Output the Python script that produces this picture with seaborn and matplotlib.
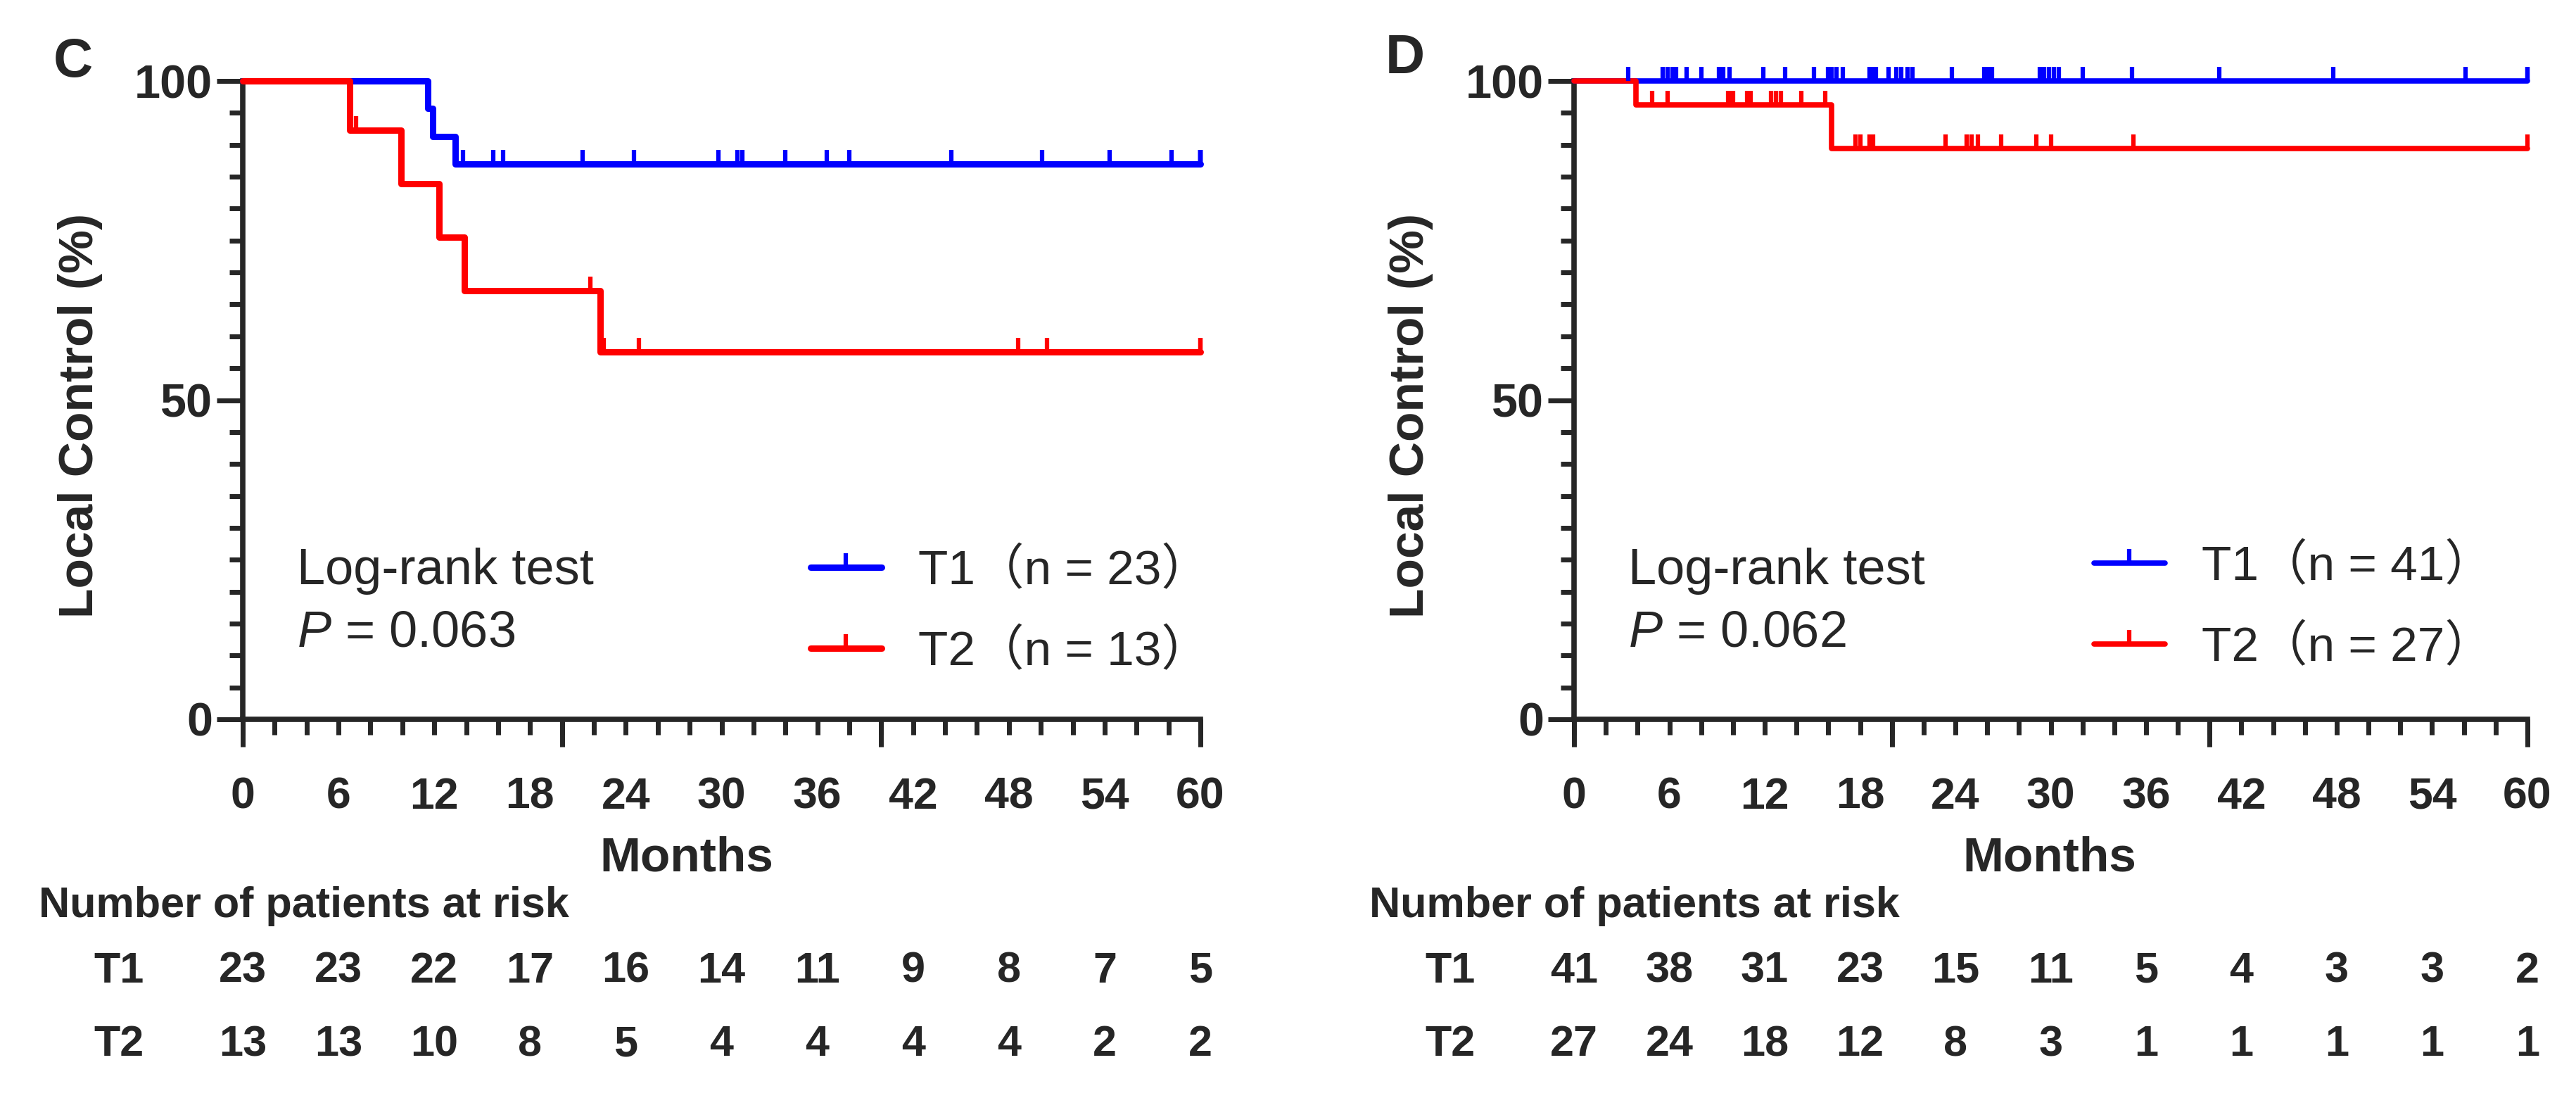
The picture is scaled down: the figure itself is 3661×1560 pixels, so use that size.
import matplotlib
matplotlib.use("Agg")
import matplotlib.pyplot as plt
import matplotlib.transforms as mtransforms
import seaborn as sns
from matplotlib.path import Path
from matplotlib.lines import Line2D
from matplotlib.ticker import MultipleLocator, FixedLocator
from matplotlib.font_manager import FontProperties

# --- Data (months) ---

# Panel C
c_t1_events = [11.6, 11.9, 13.3]
c_t1_censored = [13.8, 15.7, 16.3, 21.3, 24.5, 29.8, 31.0, 31.3, 34.0, 36.6,
                 38.0, 44.4, 50.1, 54.3, 58.2, 60, 60, 60, 60, 60]
c_t2_events = [6.7, 9.9, 12.3, 13.9, 22.4]
c_t2_censored = [7.1, 21.8, 22.6, 24.8, 48.6, 50.4, 60, 60]

# Panel D
d_t1_events = []
d_t1_censored = [3.4, 5.6, 5.9, 6.2, 6.4, 7.1, 8.0, 9.1, 9.4, 9.8, 11.9, 13.3,
                 15.1, 16.0, 16.2, 16.5, 16.9, 18.6, 18.8, 19.0, 19.8, 20.3,
                 20.6, 21.0, 21.3, 23.8, 25.8, 26.1, 26.3, 29.3, 29.6, 29.9,
                 30.2, 30.5, 32.0, 35.1, 40.6, 47.8, 56.1, 60, 60]
d_t2_events = [3.9, 16.2]
d_t2_censored = [4.9, 5.9, 9.7, 9.9, 10.0, 10.9, 11.1, 12.4, 12.7, 13.0, 14.3,
                 15.8, 17.7, 18.0, 18.6, 18.8, 23.4, 24.7, 25.0, 25.4, 26.9,
                 29.1, 30.0, 35.2, 60]

risk_months = [0, 6, 12, 18, 24, 30, 36, 42, 48, 54, 60]
c_risk_t1 = [23, 23, 22, 17, 16, 14, 11, 9, 8, 7, 5]
c_risk_t2 = [13, 13, 10, 8, 5, 4, 4, 4, 4, 2, 2]
d_risk_t1 = [41, 38, 31, 23, 15, 11, 5, 4, 3, 3, 2]
d_risk_t2 = [27, 24, 18, 12, 8, 3, 1, 1, 1, 1, 1]

c_labels = ["T1（n = 23）", "T2（n = 13）"]
d_labels = ["T1（n = 41）", "T2（n = 27）"]
c_pvalue = "0.063"
d_pvalue = "0.062"

BLUE = "#0000ff"
RED = "#ff0000"

W, H = 3662, 1560

sns.set_style("ticks")
plt.rcParams["font.family"] = ["Liberation Sans", "DejaVu Sans"]
plt.rcParams["mathtext.fontset"] = "custom"
plt.rcParams["mathtext.it"] = "Liberation Sans:italic"
plt.rcParams["mathtext.rm"] = "Liberation Sans"

TICK = Path([(0, 0), (0, 1)])
LEG_FONT = FontProperties(family=["Liberation Sans", "Noto Sans CJK JP"], size=50)


def km(events, censored):
    """Kaplan-Meier step coordinates plus censor mark positions (percent)."""
    n = len(events) + len(censored)
    times = sorted(set(events) | set(censored))
    t, s = [0.0], [100.0]
    cur = 100.0
    at_risk = n
    ct, cs = [], []
    for tm in times:
        d = events.count(tm)
        c = censored.count(tm)
        if d:
            cur = cur * (1 - d / at_risk)
            t.append(tm)
            s.append(cur)
        if c:
            ct += [tm] * c
            cs += [cur] * c
        at_risk -= d + c
    t.append(60.0)
    s.append(cur)
    return t, s, ct, cs


def fx(px):
    return px / W


def fy(py):
    return 1 - py / H


fig = plt.figure(figsize=(W / 100, H / 100), dpi=100)

panels = [
    dict(ax_px=(345, 115, 1706, 1022), letter="C", letter_xy=(104, 88),
         curves=[(c_t1_events, c_t1_censored, BLUE), (c_t2_events, c_t2_censored, RED)],
         lw=6.5, labels=c_labels, pval=c_pvalue, text_x=422,
         leg_xy=(1152, 778), months_x=976, ylab_x=114,
         risk=(c_risk_t1, c_risk_t2), risk_title_x=55, row_x=169),
    dict(ax_px=(2237, 115, 3592, 1022), letter="D", letter_xy=(1997, 84),
         curves=[(d_t1_events, d_t1_censored, BLUE), (d_t2_events, d_t2_censored, RED)],
         lw=5.5, labels=d_labels, pval=d_pvalue, text_x=2314,
         leg_xy=(2976, 772), months_x=2913, ylab_x=2005,
         risk=(d_risk_t1, d_risk_t2), risk_title_x=1946, row_x=2061),
]

for p in panels:
    x0, y0, x1, y1 = p["ax_px"]
    ax = fig.add_axes([fx(x0), fy(y1), (x1 - x0) / W, (y1 - y0) / H])
    ax.set_xlim(0, 60)
    ax.set_ylim(0, 100)
    sns.despine(ax=ax)
    for sp in ("left", "bottom"):
        ax.spines[sp].set_linewidth(5.5)

    for ev, ce, col in p["curves"]:
        t, s, ct, cs = km(ev, ce)
        sns.lineplot(x=t, y=s, drawstyle="steps-post", color=col, lw=p["lw"],
                     estimator=None, sort=False, ax=ax, clip_on=False, zorder=3)
        sns.scatterplot(x=ct, y=cs, marker=TICK, s=830, color=col, edgecolor=col,
                        linewidth=4.5, ax=ax, clip_on=False, zorder=4, legend=False)

    # x axis: labels every 6, small ticks every 2, long ticks at 0/20/40/60
    ax.xaxis.set_major_locator(FixedLocator(risk_months))
    ax.xaxis.set_minor_locator(MultipleLocator(2))
    ax.tick_params(axis="x", which="both", length=16, width=5, direction="out")
    ax.tick_params(axis="x", which="major", labelsize=45, pad=42)
    sec = ax.secondary_xaxis("bottom")
    sec.spines["bottom"].set_visible(False)
    sec.set_xticks([0, 20, 40, 60])
    sec.tick_params(length=28, width=5, labelbottom=False)

    ax.yaxis.set_major_locator(FixedLocator([0, 50, 100]))
    ax.yaxis.set_minor_locator(MultipleLocator(5))
    ax.tick_params(axis="y", which="major", length=27, width=5, labelsize=48, pad=4)
    ax.tick_params(axis="y", which="minor", length=14, width=5)
    for lab in ax.get_xticklabels() + ax.get_yticklabels():
        lab.set_fontweight("bold")

    ax.set_xlabel("Months", fontsize=50, fontweight="bold")
    ax.xaxis.label.set_va("center")
    ax.xaxis.set_label_coords((p["months_x"] - x0) / (x1 - x0), (y1 - 1220) / (y1 - y0))
    ax.set_ylabel("Local Control (%)", fontsize=50, fontweight="bold")
    ax.yaxis.label.set_va("center")
    ax.yaxis.set_label_coords((p["ylab_x"] - x0) / (x1 - x0), (y1 - 590) / (y1 - y0))

    fig.text(fx(p["letter_xy"][0]), fy(p["letter_xy"][1]), p["letter"], fontsize=56,
             fontweight="bold", ha="center", va="center")

    fig.text(fx(p["text_x"]), fy(811), "Log-rank test", fontsize=52, va="center")
    fig.text(fx(p["text_x"]), fy(900), "$P$ = " + p["pval"], fontsize=52, va="center")

    handles = [Line2D([], [], color=col, lw=p["lw"], marker=TICK, markersize=29,
                      markeredgewidth=4.5, markeredgecolor=col)
               for col in (BLUE, RED)]
    ax.legend(handles, p["labels"], loc="upper left",
              bbox_to_anchor=(fx(p["leg_xy"][0]), fy(p["leg_xy"][1])),
              bbox_transform=fig.transFigure, frameon=False, prop=LEG_FONT,
              handlelength=1.45, handletextpad=0.75, labelspacing=0.7,
              borderaxespad=0, borderpad=0, numpoints=1)

    # number at risk table
    fig.text(fx(p["risk_title_x"]), fy(1288), "Number of patients at risk",
             fontsize=44, fontweight="bold", va="center")
    trans = mtransforms.blended_transform_factory(ax.transData, fig.transFigure)
    for row_name, vals, ypx in zip(["T1", "T2"], p["risk"], [1380, 1485]):
        fig.text(fx(p["row_x"]), fy(ypx), row_name, fontsize=44, fontweight="bold",
                 ha="center", va="center")
        for m, v in zip(risk_months, vals):
            ax.text(m, fy(ypx), str(v), transform=trans, fontsize=44,
                    fontweight="bold", ha="center", va="center")

fig.savefig("out.png", dpi=100)
